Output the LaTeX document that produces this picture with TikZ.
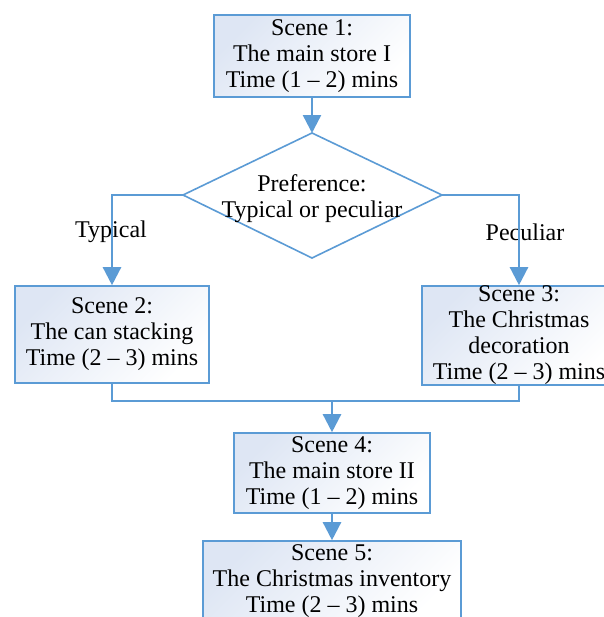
\documentclass[tikz,border=0pt]{standalone}
\usepackage{fontspec}
\setmainfont{Liberation Serif}
\usepackage{xcolor}
\usepackage{tikz}
\usetikzlibrary{arrows.meta, positioning, calc}

\definecolor{flowblue}{RGB}{91,155,213}
\definecolor{shadeblue}{RGB}{222,230,244}

\begin{document}
\begin{tikzpicture}[
        x=0.5pt, y=-0.5pt,
        >={Triangle[width=9pt, length=9pt]}, line width=1.2pt,
        % ---- styles ----
        scene/.style = {draw=flowblue, line width=0.8pt, rectangle, shading=axis,
                        top color=shadeblue, bottom color=white, shading angle=45,
                        align=center, inner sep=0pt,
                        font=\fontsize{12}{13}\selectfont},
        choice/.style = {draw=flowblue, line width=0.8pt, fill=white},
        branch/.style = {font=\fontsize{12}{13}\selectfont, inner sep=0pt, align=center},
        flow/.style = {draw=flowblue, ->}
    ]

    % ===================== frame =====================
    \clip (0,0) rectangle (604,617);
    \fill[white] (0,0) rectangle (604,617);

    % ===================== scenes =====================
    \node[scene, minimum width=98pt, minimum height=41pt] (s1) at (312,56)
        {Scene 1:\\The main store I\\Time (1 -- 2) mins};

    % decision diamond (corners as named coordinates)
    \coordinate (pref-n) at (312,133);
    \coordinate (pref-e) at (442,195);
    \coordinate (pref-s) at (312,258);
    \coordinate (pref-w) at (183,195);
    \draw[choice] (pref-n) -- (pref-e) -- (pref-s) -- (pref-w) -- cycle;
    \node[branch] (pref) at (312,199) {Preference:\\Typical or peculiar};

    \node[scene, minimum width=97pt, minimum height=48.5pt] (s2) at (112,334.5)
        {Scene 2:\\The can stacking\\Time (2 -- 3) mins};
    \node[scene, minimum width=97pt, minimum height=49.5pt] (s3) at (519,335.5)
        {Scene 3:\\The Christmas\\decoration\\Time (2 -- 3) mins};

    \node[scene, minimum width=98pt, minimum height=40pt] (s4) at (332,473)
        {Scene 4:\\The main store II\\Time (1 -- 2) mins};
    \node[scene, minimum width=129pt, minimum height=40pt] (s5) at (332,581)
        {Scene 5:\\The Christmas inventory\\Time (2 -- 3) mins};

    % branch names
    \node[branch] (typ) at (111,232) {Typical};
    \node[branch] (pec) at (525,232) {Peculiar};

    % ---- connectors ----
    \coordinate (merge) at ($(s4.north)+(0,-31)$);

    \draw[flow] (s1.south) -- (pref-n);
    \draw[flow] (pref-w) -| (s2.north);
    \draw[flow] (pref-e) -| (s3.north);
    \draw[draw=flowblue] (s2.south) |- (merge) -| (s3.south);
    \draw[flow] (merge) -- (s4.north);
    \draw[flow] (s4.south) -- (s5.north);

\end{tikzpicture}
\end{document}
